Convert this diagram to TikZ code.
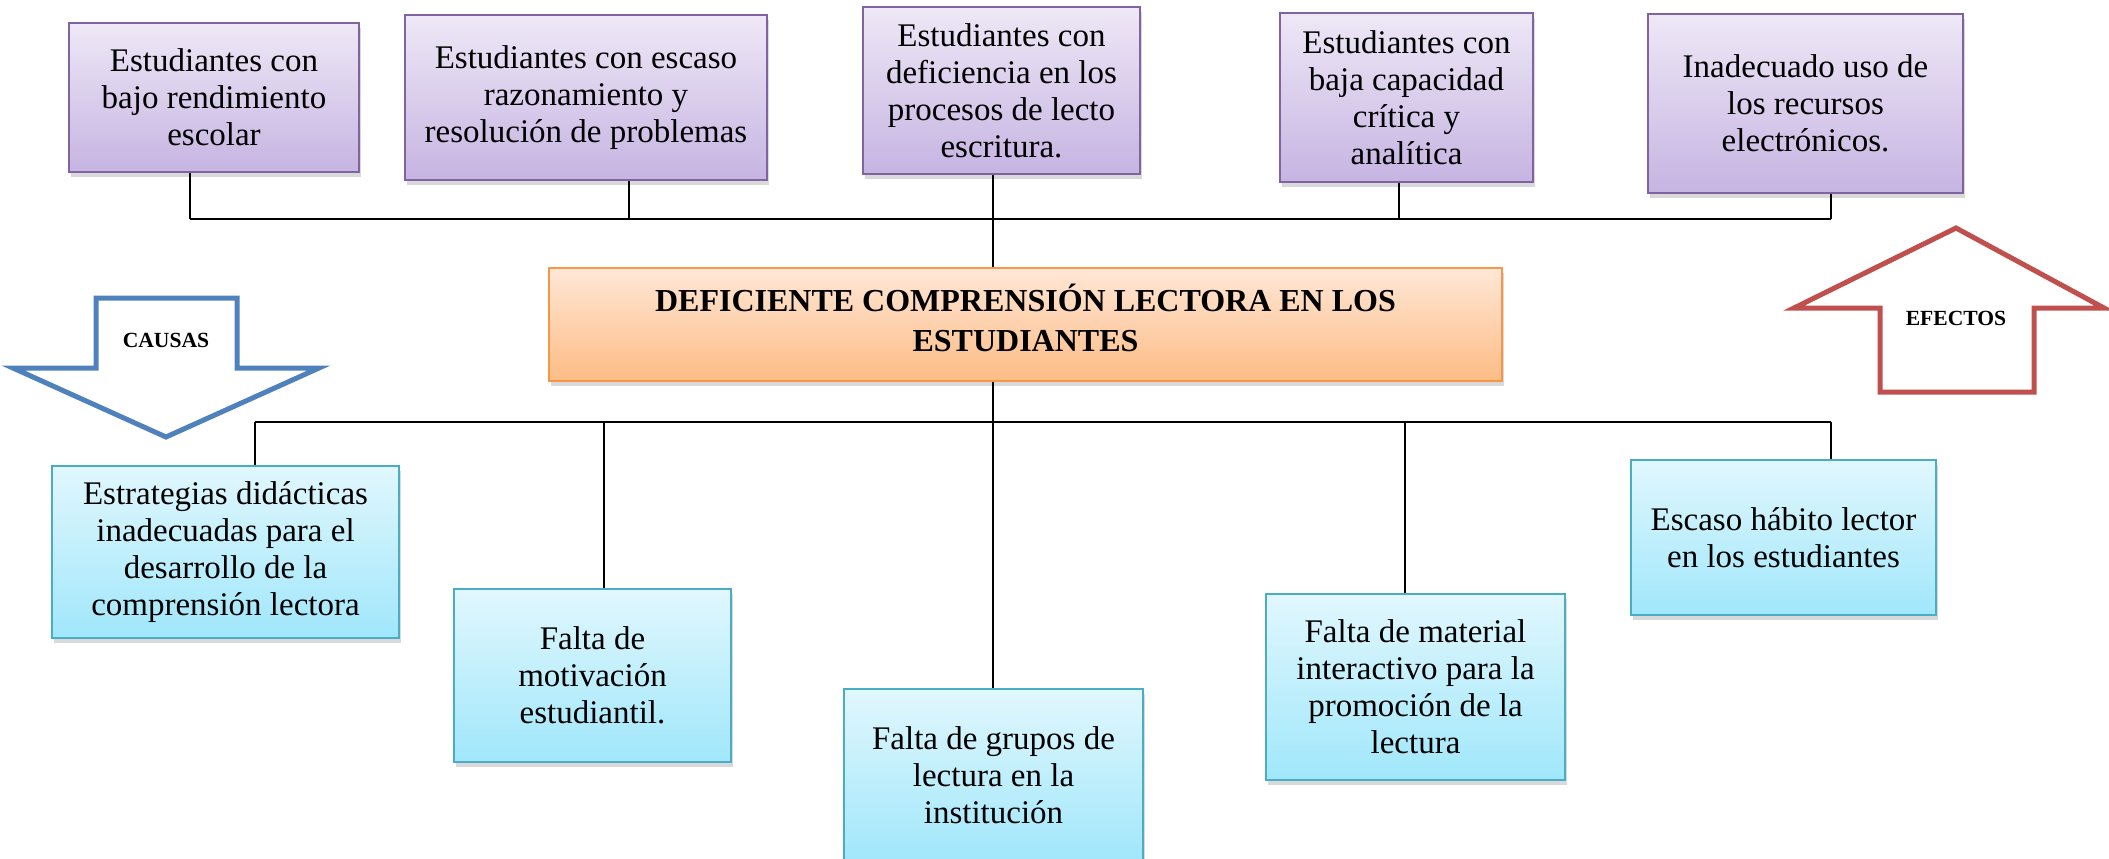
\documentclass[tikz,border=0pt]{standalone}
\usepackage{fontspec}
\setmainfont{Liberation Serif}
\usetikzlibrary{shadows}
\definecolor{lila}{HTML}{8064A2}
\definecolor{lilaA}{HTML}{EEE8F6}
\definecolor{lilaB}{HTML}{C6B4E2}
\definecolor{naranja}{HTML}{F79646}
\definecolor{naranjaA}{HTML}{FFE7D6}
\definecolor{naranjaB}{HTML}{FDBC85}
\definecolor{celeste}{HTML}{4BACC6}
\definecolor{celesteA}{HTML}{E1F7FD}
\definecolor{celesteB}{HTML}{A0E7FB}
\definecolor{azul}{HTML}{4F81BD}
\definecolor{rojo}{HTML}{C0504D}
\tikzset{
  caja/.style={draw, line width=0.9pt, align=center, inner sep=0pt,
    font=\fontsize{16.5}{18.5}\selectfont,
    drop shadow={shadow xshift=1pt, shadow yshift=-2.5pt, opacity=0.3}},
  efecto/.style={caja, draw=lila, top color=lilaA, bottom color=lilaB},
  causa/.style={caja, draw=celeste, top color=celesteA, bottom color=celesteB},
  problema/.style={caja, draw=naranja, top color=naranjaA, bottom color=naranjaB,
    font=\fontsize{16}{20}\selectfont\bfseries},
  barra/.style={line width=1.2pt},
  rama/.style={line width=0.65pt},
  flecha/.style={line width=2.5pt, line join=miter},
  rotulo/.style={font=\fontsize{10.8}{12}\selectfont\bfseries}
}

\begin{document}
\begin{tikzpicture}[x=0.5pt,y=-0.5pt]
  \useasboundingbox (0,0) rectangle (2109,858);

  \node[efecto, minimum width=145pt, minimum height=74.5pt] (e1) at (214,97.5)
    {Estudiantes con\\bajo rendimiento\\escolar};
  \node[efecto, minimum width=181pt, minimum height=82.5pt] (e2) at (586,97.5)
    {Estudiantes con escaso\\razonamiento y\\resolución de problemas};
  \node[efecto, minimum width=138.5pt, minimum height=83.5pt] (e3) at (1001.5,90.5)
    {Estudiantes con\\deficiencia en los\\procesos de lecto\\escritura.};
  \node[efecto, minimum width=126.5pt, minimum height=84.5pt] (e4) at (1406.5,97.5)
    {Estudiantes con\\baja capacidad\\crítica y\\analítica};
  \node[efecto, minimum width=157.5pt, minimum height=89.5pt] (e5) at (1805.5,103.5)
    {Inadecuado uso de\\los recursos\\electrónicos.};

  \node[problema, minimum width=476.5pt, minimum height=56.5pt] (p) at (1025.5,324.5)
    {DEFICIENTE COMPRENSIÓN LECTORA EN LOS\\ESTUDIANTES\\[-13pt]\mbox{}};

  \node[causa, minimum width=173.5pt, minimum height=86pt] (c1) at (225.5,552)
    {Estrategias didácticas\\inadecuadas para el\\desarrollo de la\\comprensión lectora};
  \node[causa, minimum width=138.5pt, minimum height=86.5pt] (c2) at (592.5,675.5)
    {Falta de\\motivación\\estudiantil.};
  \node[causa, minimum width=149.5pt, minimum height=86.5pt] (c3) at (993.5,775.5)
    {Falta de grupos de\\lectura en la\\institución};
  \node[causa, minimum width=149.5pt, minimum height=93pt] (c4) at (1415.5,687)
    {Falta de material\\interactivo para la\\promoción de la\\lectura};
  \node[causa, minimum width=152.5pt, minimum height=77.5pt] (c5) at (1783.5,537.5)
    {Escaso hábito lector\\en los estudiantes};

  \foreach \i/\x in {1/190,2/629,3/993,4/1399,5/1831}
    \coordinate (t\i) at (\x,219);
  \foreach \i/\x in {1/255,2/604,3/993,4/1405,5/1831}
    \coordinate (b\i) at (\x,422);

  \draw[barra] (t1) -- (t5);
  \draw[barra] (b1) -- (b5);
  \foreach \i in {1,...,5} {
    \draw[rama] (e\i.south -| t\i) -- (t\i);
    \draw[rama] (b\i) -- (c\i.north -| b\i);
  }
  \draw[rama] (t3) -- (p.north -| t3);
  \draw[rama] (p.south -| b3) -- (b3);

  \draw[flecha, azul] (96,298) -- (237,298) -- (237,368) -- (319,368)
    -- (166,437) -- (13,368) -- (96,368) -- cycle;
  \node[rotulo] (causas) at (166,340) {CAUSAS};
  \draw[flecha, rojo] (1880,392) -- (1880,308) -- (1794,308) -- (1956,228)
    -- (2104,308) -- (2034,308) -- (2034,392) -- cycle;
  \node[rotulo] (efectos) at (1956,318) {EFECTOS};
\end{tikzpicture}
\end{document}
